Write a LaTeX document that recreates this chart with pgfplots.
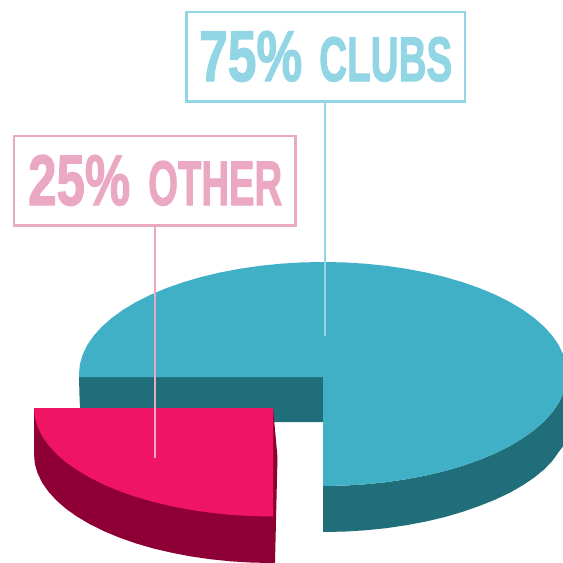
\documentclass[border=0pt]{standalone}
\usepackage{fontspec}
\setmainfont{Liberation Sans}[BoldFeatures={FakeBold=2}]
\usepackage{graphicx}
\usepackage{pgfplots}
\pgfplotsset{compat=1.18}
\definecolor{bluetop}{HTML}{3FB0C6}
\definecolor{blueside}{HTML}{216E7B}
\definecolor{pinktop}{HTML}{F01464}
\definecolor{pinkside}{HTML}{8E0035}
\definecolor{bluelabel}{HTML}{92D5E4}
\definecolor{pinklabel}{HTML}{EBA8C3}
\newcommand{\fit}[3]{\resizebox{#1pt}{#2pt}{\bfseries #3}}
\begin{document}
\begin{tikzpicture}
\begin{axis}[
  width=563pt,height=563pt,scale only axis,hide axis,
  xmin=0,xmax=563,ymin=0,ymax=563,y dir=reverse,clip=true]
\path (rel axis cs:0,0) rectangle (rel axis cs:1,1);
% blue outer side
\addplot[fill=blueside,draw=none] coordinates {
 (567,374) (566.1,383.8) (563.3,393.4) (558.7,403) (552.3,412.3) (544.1,421.3) (534.3,430) (522.9,438.2) (509.9,446) (495.5,453.2) (479.8,459.8) (463,465.7) (445,471) (426.1,475.5) (406.4,479.2) (386.1,482.2) (365.4,484.3) (344.3,485.6) (323,486)
 (323,532) (344.3,531.6) (365.4,530.3) (386.1,528.2) (406.4,525.2) (426.1,521.5) (445,517) (463,511.7) (479.8,505.8) (495.5,499.5) (509.9,492.7) (522.9,485.2) (534.3,477.5) (544.1,469.5) (552.3,461) (558.7,452) (563.3,446) (566.1,436) (567,425)} -- cycle;
% inner wall
\addplot[fill=blueside,draw=none] coordinates {(79,377) (323,377) (323,422) (81,422) (79.6,400)} -- cycle;
% blue top
\addplot[fill=bluetop,draw=none] coordinates {
 (79,377) (79,374) (79.9,364.2) (82.7,354.6) (87.3,345) (93.7,335.7) (101.9,326.7) (111.7,318) (123.1,309.8) (136.1,302) (150.5,294.8) (166.2,288.2) (183,282.3) (201,277) (219.9,272.5) (239.6,268.8) (259.9,265.8) (280.6,263.7) (301.7,262.4) (323,262)
 (344.3,262.4) (365.4,263.7) (386.1,265.8) (406.4,268.8) (426.1,272.5) (445,277) (463,282.3) (479.8,288.2) (495.5,294.8) (509.9,302) (522.9,309.8) (534.3,318) (544.1,326.7) (552.3,335.7) (558.7,345) (563.3,354.6) (566.1,364.2) (567,374)
 (566.1,383.8) (563.3,393.4) (558.7,403) (552.3,412.3) (544.1,421.3) (534.3,430) (522.9,438.2) (509.9,446) (495.5,453.2) (479.8,459.8) (463,465.7) (445,471) (426.1,475.5) (406.4,479.2) (386.1,482.2) (365.4,484.3) (344.3,485.6) (323,486)
 (323,377)} -- cycle;
% pink side
\addplot[fill=pinkside,draw=none] coordinates {
 (34,408) (273,408) (277.5,457) (275,563) (273,563) (252.2,562.6) (231.5,561.4) (211.1,559.3) (191.3,556.5) (172,552.8) (153.5,548.5) (135.9,543.4) (119.4,537.6) (104,531.2) (89.9,524.2) (77.2,516.7) (66,508.8) (56.4,500.4) (48.4,491.6) (42.1,482.6) (37.6,473.3) (34.9,464) (34,454.5)} -- cycle;
% pink top
\addplot[fill=pinktop,draw=none] coordinates {
 (34,408) (34.9,417.5) (37.6,426.8) (42.1,436.1) (48.4,445.1) (56.4,453.9) (66,462.3) (77.2,470.2) (89.9,477.7) (104,484.7) (119.4,491.1) (135.9,496.9) (153.5,502) (172,506.3) (191.3,510) (211.1,512.8) (231.5,514.9) (252.2,516.1) (273,516.5) (273,408)} -- cycle;
% leader lines
\addplot[draw=bluelabel,line width=2.2pt] coordinates {(325,101) (325,336)};
\addplot[draw=pinklabel,line width=2.2pt] coordinates {(155,225) (155,458)};
% label boxes
\addplot[draw=bluelabel,line width=2.2pt] coordinates {(186.5,12) (465,12) (465,101.5) (186.5,101.5)} -- cycle;
\addplot[draw=pinklabel,line width=2.2pt] coordinates {(14,136) (295.5,136) (295.5,225.5) (14,225.5)} -- cycle;
% labels
\node[anchor=base west,inner sep=0pt,text=bluelabel] at (axis cs:199,81) {\fit{103}{50}{75\%}};
\node[anchor=base west,inner sep=0pt,text=bluelabel] at (axis cs:319,81) {\fit{133}{44}{CLUBS}};
\node[anchor=base west,inner sep=0pt,text=pinklabel] at (axis cs:28,205) {\fit{102}{50}{25\%}};
\node[anchor=base west,inner sep=0pt,text=pinklabel] at (axis cs:148,205) {\fit{134}{44}{OTHER}};
\end{axis}
\end{tikzpicture}
\end{document}
